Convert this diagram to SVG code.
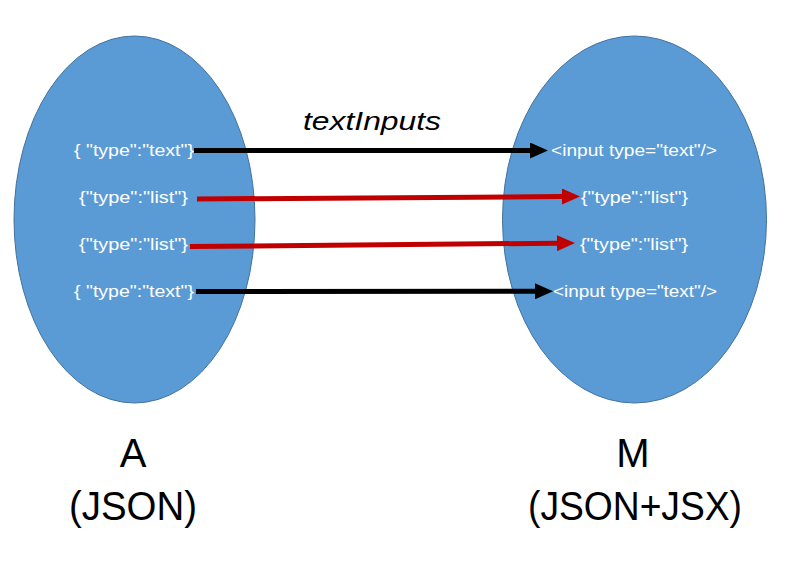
<svg xmlns="http://www.w3.org/2000/svg" width="787" height="562" viewBox="0 0 787 562">
  <style>
    .set { fill: #5B9BD5; stroke: #41719C; stroke-width: 1; }
    .item { font-family: "Liberation Sans", Arial, sans-serif; font-size: 16px; fill: #FFFFFF; }
    .big { font-family: "Liberation Sans", Arial, sans-serif; font-size: 40px; fill: #000000; text-anchor: middle; }
    .lbl { font-family: "Liberation Sans", Arial, sans-serif; font-size: 25px; font-style: italic; fill: #000000; }
    .blk { stroke: #000000; stroke-width: 5; fill: none; marker-end: url(#headBlack); }
    .red { stroke: #C00000; stroke-width: 5; fill: none; marker-end: url(#headRed); }
  </style>
  <defs>
    <marker id="headBlack" markerUnits="userSpaceOnUse" markerWidth="18" markerHeight="16" refX="0" refY="8" orient="auto" viewBox="0 0 18 16">
      <path d="M0,0 L18,8 L0,16 Z" fill="#000000"/>
    </marker>
    <marker id="headRed" markerUnits="userSpaceOnUse" markerWidth="18" markerHeight="16" refX="0" refY="8" orient="auto" viewBox="0 0 18 16">
      <path d="M0,0 L18,8 L0,16 Z" fill="#C00000"/>
    </marker>
  </defs>
  <rect width="787" height="562" fill="#FFFFFF"/>

  <g id="setA">
    <ellipse class="set" cx="134.5" cy="219.5" rx="120.5" ry="183.5"/>
    <text class="item" x="74" y="156" textLength="120" lengthAdjust="spacingAndGlyphs">{ "type":"text"}</text>
    <text class="item" x="79" y="203" textLength="109" lengthAdjust="spacingAndGlyphs">{"type":"list"}</text>
    <text class="item" x="79" y="250" textLength="109" lengthAdjust="spacingAndGlyphs">{"type":"list"}</text>
    <text class="item" x="74" y="297" textLength="120" lengthAdjust="spacingAndGlyphs">{ "type":"text"}</text>
    <text class="big" x="133" y="467">A</text>
    <text class="big" x="133" y="520" textLength="128" lengthAdjust="spacingAndGlyphs">(JSON)</text>
  </g>

  <g id="setM">
    <ellipse class="set" cx="634.5" cy="219.5" rx="132" ry="183.5"/>
    <text class="item" x="551" y="156" textLength="166" lengthAdjust="spacingAndGlyphs">&lt;input type="text"/&gt;</text>
    <text class="item" x="581" y="203" textLength="107" lengthAdjust="spacingAndGlyphs">{"type":"list"}</text>
    <text class="item" x="580" y="250" textLength="108" lengthAdjust="spacingAndGlyphs">{"type":"list"}</text>
    <text class="item" x="553" y="297" textLength="164" lengthAdjust="spacingAndGlyphs">&lt;input type="text"/&gt;</text>
    <text class="big" x="633" y="467">M</text>
    <text class="big" x="635" y="520" textLength="214" lengthAdjust="spacingAndGlyphs">(JSON+JSX)</text>
  </g>

  <g id="connectors">
    <line class="blk" x1="194" y1="150.5" x2="530" y2="150.5"/>
    <line class="red" x1="197" y1="199" x2="562" y2="196.6"/>
    <line class="red" x1="190" y1="246.5" x2="557" y2="243.2"/>
    <line class="blk" x1="196" y1="291.5" x2="535" y2="291.3"/>
    <text class="lbl" x="303" y="130" textLength="138" lengthAdjust="spacingAndGlyphs">textInputs</text>
  </g>
</svg>
